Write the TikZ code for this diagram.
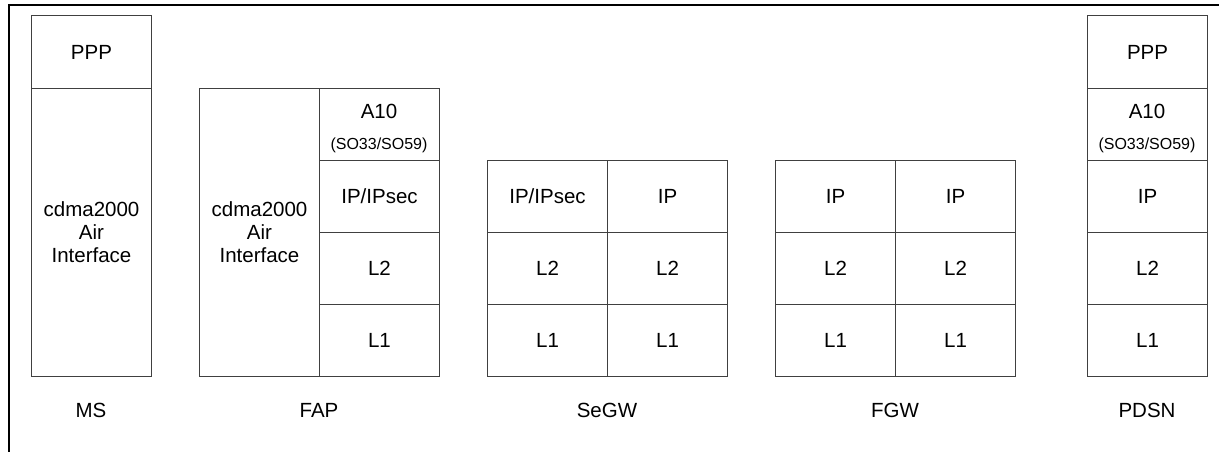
\documentclass[tikz,border=0pt]{standalone}
\usepackage{fontspec}
\setmainfont{Liberation Sans}
\begin{document}
\begin{tikzpicture}[x=1pt,y=-1pt,
  cell/.style={draw=black!75, line width=1pt, minimum width=120pt,
    minimum height=72pt, inner sep=0pt, anchor=north west, align=center,
    font=\fontsize{20.5}{23}\selectfont},
  txt/.style={inner sep=0pt, font=\fontsize{20.5}{23}\selectfont},
  smalltxt/.style={inner sep=0pt, font=\fontsize{16}{18}\selectfont},
  caption/.style={inner sep=0pt, font=\fontsize{20.5}{23}\selectfont}]
\useasboundingbox (0,0) rectangle (1219,452);
% cropped outer frame
\draw[line width=2.6pt] (9,452) -- (9,5) -- (1219,5);

% MS
\node[cell, minimum height=73pt] (msppp) at (31,15) {PPP};
\node[cell, minimum height=288pt] (msair) at (31,88) {cdma2000\\Air\\Interface};
\node[caption] (mscap) at (91,410) {MS};

% FAP
\node[cell, minimum height=288pt] (fapair) at (199,88) {cdma2000\\Air\\Interface};
\node[cell] (fapa10) at (319,88) {};
\node[txt] (fapa10a) at (379,111) {A10};
\node[smalltxt] (fapa10b) at (379,145) {(SO33/SO59)};
\node[cell] (fapip) at (319,160) {IP/IPsec};
\node[cell] (fapl2) at (319,232) {L2};
\node[cell] (fapl1) at (319,304) {L1};
\node[caption] (fapcap) at (319,410) {FAP};

% SeGW
\node[cell] (sgipa) at (487,160) {IP/IPsec};
\node[cell] (sgipb) at (607,160) {IP};
\node[cell] (sgl2a) at (487,232) {L2};
\node[cell] (sgl2b) at (607,232) {L2};
\node[cell] (sgl1a) at (487,304) {L1};
\node[cell] (sgl1b) at (607,304) {L1};
\node[caption] (sgcap) at (607,410) {SeGW};

% FGW
\node[cell] (fgipa) at (775,160) {IP};
\node[cell] (fgipb) at (895,160) {IP};
\node[cell] (fgl2a) at (775,232) {L2};
\node[cell] (fgl2b) at (895,232) {L2};
\node[cell] (fgl1a) at (775,304) {L1};
\node[cell] (fgl1b) at (895,304) {L1};
\node[caption] (fgcap) at (895,410) {FGW};

% PDSN
\node[cell, minimum height=73pt] (pdppp) at (1087,15) {PPP};
\node[cell] (pda10) at (1087,88) {};
\node[txt] (pda10a) at (1147,111) {A10};
\node[smalltxt] (pda10b) at (1147,145) {(SO33/SO59)};
\node[cell] (pdip) at (1087,160) {IP};
\node[cell] (pdl2) at (1087,232) {L2};
\node[cell] (pdl1) at (1087,304) {L1};
\node[caption] (pdcap) at (1147,410) {PDSN};
\end{tikzpicture}
\end{document}
